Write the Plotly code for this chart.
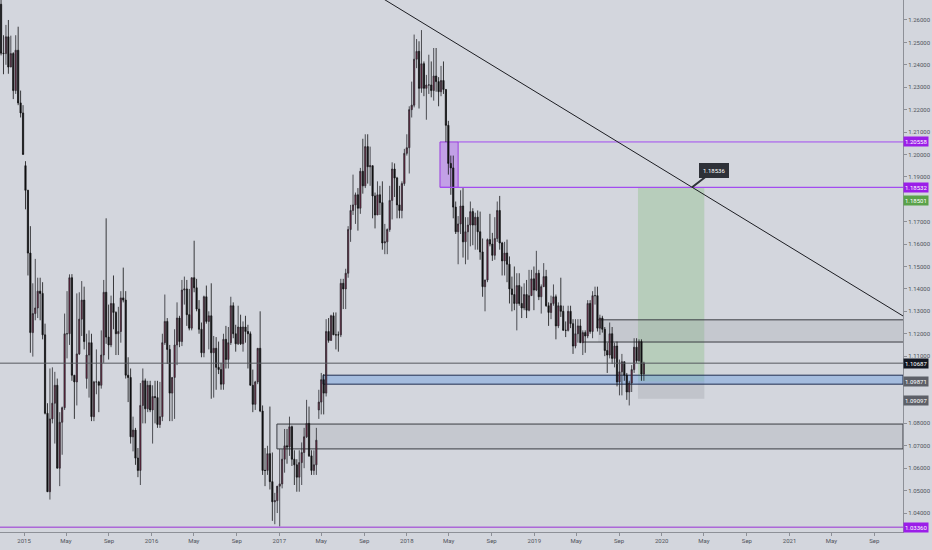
import pandas as pd
import plotly.graph_objects as go

# ---------------- data (weekly EUR/USD candles: open, high, low, close) ----------------
START_WEEK = "2014-10-13"

OHLC_2014 = [
    (1.2626, 1.2887, 1.2617, 1.2760), (1.2760, 1.2778, 1.2614, 1.2670), (1.2670, 1.2837, 1.2442, 1.2452),
    (1.2452, 1.2532, 1.2358, 1.2450), (1.2450, 1.2578, 1.2400, 1.2525), (1.2525, 1.2600, 1.2360, 1.2390),
    (1.2390, 1.2530, 1.2390, 1.2450), (1.2450, 1.2456, 1.2247, 1.2285), (1.2285, 1.2532, 1.2270, 1.2465),
    (1.2465, 1.2570, 1.2220, 1.2230), (1.2230, 1.2285, 1.2165, 1.2185), (1.2185, 1.2220, 1.2000, 1.2000),
]
OHLC_2015 = [
    (1.1950, 1.1970, 1.1755, 1.1840), (1.1840, 1.1842, 1.1460, 1.1560), (1.1560, 1.1680, 1.1115, 1.1205),
    (1.1205, 1.1425, 1.1098, 1.1290), (1.1290, 1.1534, 1.1260, 1.1315), (1.1315, 1.1450, 1.1270, 1.1390),
    (1.1390, 1.1450, 1.1260, 1.1380), (1.1380, 1.1430, 1.1175, 1.1195), (1.1195, 1.1245, 1.0840, 1.0845),
    (1.0845, 1.0890, 1.0500, 1.0495), (1.0495, 1.1045, 1.0460, 1.0820), (1.0820, 1.1050, 1.0800, 1.0890),
    (1.0890, 1.1030, 1.0710, 1.0970), (1.0970, 1.1000, 1.0600, 1.0600), (1.0600, 1.0850, 1.0520, 1.0805),
    (1.0805, 1.0875, 1.0660, 1.0870), (1.0870, 1.1290, 1.0860, 1.1200), (1.1200, 1.1390, 1.1090, 1.1200),
    (1.1200, 1.1465, 1.1150, 1.1450), (1.1450, 1.1466, 1.0990, 1.1015), (1.1015, 1.1015, 1.0820, 1.0985),
    (1.0985, 1.1380, 1.0880, 1.1110), (1.1110, 1.1385, 1.1105, 1.1265), (1.1265, 1.1435, 1.1190, 1.1350),
    (1.1350, 1.1410, 1.1130, 1.1165), (1.1000, 1.1200, 1.0955, 1.1105), (1.1105, 1.1215, 1.0915, 1.1160),
    (1.1160, 1.1200, 1.0810, 1.0830), (1.0830, 1.0990, 1.0810, 1.0985), (1.0985, 1.1130, 1.0930, 1.0985),
    (1.0985, 1.0990, 1.0850, 1.0970), (1.0970, 1.1215, 1.0955, 1.1105), (1.1105, 1.1440, 1.1070, 1.1385),
    (1.1385, 1.1715, 1.1155, 1.1185), (1.1185, 1.1330, 1.1085, 1.1150), (1.1150, 1.1370, 1.1140, 1.1335),
    (1.1335, 1.1460, 1.1220, 1.1295), (1.1295, 1.1300, 1.1105, 1.1200), (1.1200, 1.1320, 1.1105, 1.1210),
    (1.1210, 1.1390, 1.1160, 1.1360), (1.1360, 1.1495, 1.1340, 1.1350), (1.1350, 1.1390, 1.1000, 1.1015),
    (1.1015, 1.1095, 1.0895, 1.1005), (1.1005, 1.1045, 1.0710, 1.0740), (1.0740, 1.0830, 1.0675, 1.0770),
    (1.0770, 1.0780, 1.0615, 1.0645), (1.0645, 1.0690, 1.0560, 1.0590), (1.0590, 1.0980, 1.0525, 1.0880),
    (1.0880, 1.1045, 1.0800, 1.0990), (1.0990, 1.1000, 1.0800, 1.0865), (1.0865, 1.0990, 1.0850, 1.0970),
    (1.0970, 1.0990, 1.0850, 1.0860),
]
OHLC_2016 = [
    (1.0860, 1.0970, 1.0710, 1.0920), (1.0920, 1.0990, 1.0800, 1.0915), (1.0915, 1.0990, 1.0780, 1.0795),
    (1.0795, 1.0985, 1.0780, 1.0830), (1.0830, 1.1200, 1.0810, 1.1160), (1.1160, 1.1375, 1.1150, 1.1255),
    (1.1255, 1.1270, 1.1065, 1.1130), (1.1130, 1.1150, 1.0810, 1.0935), (1.0935, 1.1005, 1.0810, 1.1005),
    (1.1005, 1.1220, 1.0820, 1.1150), (1.1150, 1.1340, 1.1060, 1.1270), (1.1270, 1.1280, 1.1140, 1.1165),
    (1.1165, 1.1440, 1.1145, 1.1395), (1.1395, 1.1455, 1.1330, 1.1400), (1.1400, 1.1440, 1.1235, 1.1285),
    (1.1285, 1.1400, 1.1215, 1.1225), (1.1225, 1.1450, 1.1215, 1.1450), (1.1450, 1.1615, 1.1385, 1.1405),
    (1.1405, 1.1445, 1.1300, 1.1310), (1.1310, 1.1350, 1.1200, 1.1220), (1.1220, 1.1250, 1.1095, 1.1115),
    (1.1115, 1.1370, 1.1095, 1.1365), (1.1365, 1.1415, 1.1245, 1.1255), (1.1255, 1.1300, 1.1130, 1.1280),
    (1.1280, 1.1425, 1.0910, 1.1115), (1.1115, 1.1190, 1.0915, 1.1135), (1.1135, 1.1185, 1.0950, 1.1050),
    (1.1050, 1.1165, 1.1020, 1.1040), (1.1040, 1.1070, 1.0950, 1.0975), (1.0975, 1.1200, 1.0950, 1.1175),
    (1.1175, 1.1235, 1.1045, 1.1085), (1.1085, 1.1230, 1.1045, 1.1160), (1.1160, 1.1365, 1.1150, 1.1325),
    (1.1325, 1.1340, 1.1180, 1.1200), (1.1200, 1.1240, 1.1120, 1.1155), (1.1155, 1.1325, 1.1150, 1.1230),
    (1.1230, 1.1285, 1.1150, 1.1155), (1.1155, 1.1255, 1.1120, 1.1230), (1.1230, 1.1280, 1.1160, 1.1210),
    (1.1210, 1.1240, 1.1045, 1.1200), (1.1200, 1.1210, 1.0970, 1.0970), (1.0970, 1.1040, 1.0850, 1.0885),
    (1.0885, 1.0990, 1.0860, 1.0985), (1.0985, 1.1125, 1.0975, 1.1135), (1.1135, 1.1300, 1.0850, 1.0855),
    (1.0855, 1.0880, 1.0570, 1.0590), (1.0590, 1.0690, 1.0520, 1.0590), (1.0590, 1.0700, 1.0570, 1.0665),
    (1.0665, 1.0875, 1.0505, 1.0540), (1.0540, 1.0670, 1.0365, 1.0450), (1.0450, 1.0490, 1.0350, 1.0455),
    (1.0455, 1.0490, 1.0400, 1.0520),
]
OHLC_2017 = [
    (1.0520, 1.0685, 1.0340, 1.0530), (1.0530, 1.0685, 1.0510, 1.0640), (1.0640, 1.0775, 1.0580, 1.0700),
    (1.0700, 1.0775, 1.0620, 1.0695), (1.0695, 1.0830, 1.0655, 1.0785), (1.0785, 1.0790, 1.0610, 1.0640),
    (1.0640, 1.0680, 1.0525, 1.0615), (1.0615, 1.0640, 1.0495, 1.0560), (1.0560, 1.0680, 1.0495, 1.0625),
    (1.0625, 1.0715, 1.0525, 1.0670), (1.0670, 1.0780, 1.0600, 1.0740), (1.0740, 1.0905, 1.0735, 1.0800),
    (1.0800, 1.0875, 1.0650, 1.0655), (1.0655, 1.0680, 1.0570, 1.0590), (1.0590, 1.0680, 1.0570, 1.0615),
    (1.0615, 1.0780, 1.0570, 1.0725), (1.0860, 1.0950, 1.0820, 1.0895), (1.0895, 1.1025, 1.0840, 1.0995),
    (1.0995, 1.1020, 1.0840, 1.0935), (1.0935, 1.1265, 1.0920, 1.1210), (1.1210, 1.1270, 1.1160, 1.1170),
    (1.1170, 1.1285, 1.1170, 1.1280), (1.1280, 1.1295, 1.1195, 1.1195), (1.1195, 1.1295, 1.1130, 1.1195),
    (1.1195, 1.1210, 1.1120, 1.1195), (1.1195, 1.1445, 1.1185, 1.1425), (1.1425, 1.1445, 1.1310, 1.1400),
    (1.1400, 1.1490, 1.1310, 1.1470), (1.1470, 1.1680, 1.1450, 1.1665), (1.1665, 1.1775, 1.1610, 1.1750),
    (1.1750, 1.1910, 1.1730, 1.1775), (1.1775, 1.1830, 1.1690, 1.1820), (1.1820, 1.1850, 1.1660, 1.1760),
    (1.1760, 1.1940, 1.1735, 1.1925), (1.1925, 1.2070, 1.1825, 1.1860), (1.1860, 1.2090, 1.1850, 1.2035),
    (1.2035, 1.2090, 1.1870, 1.1945), (1.1945, 1.2035, 1.1860, 1.1950), (1.1950, 1.1950, 1.1715, 1.1815),
    (1.1815, 1.1830, 1.1670, 1.1730), (1.1730, 1.1880, 1.1730, 1.1820), (1.1820, 1.1860, 1.1730, 1.1785),
    (1.1785, 1.1880, 1.1575, 1.1605), (1.1605, 1.1690, 1.1555, 1.1610), (1.1610, 1.1670, 1.1555, 1.1665),
    (1.1665, 1.1860, 1.1655, 1.1795), (1.1795, 1.1965, 1.1710, 1.1935), (1.1935, 1.1960, 1.1810, 1.1895),
    (1.1895, 1.1900, 1.1715, 1.1775), (1.1775, 1.1860, 1.1715, 1.1750), (1.1750, 1.1880, 1.1715, 1.1870),
    (1.1870, 1.2025, 1.1860, 1.2005),
]
OHLC_2018 = [
    (1.2005, 1.2090, 1.1995, 1.2030), (1.2030, 1.2215, 1.1915, 1.2200), (1.2200, 1.2325, 1.2165, 1.2220),
    (1.2220, 1.2535, 1.2210, 1.2425), (1.2425, 1.2515, 1.2385, 1.2460), (1.2460, 1.2505, 1.2205, 1.2295),
    (1.2295, 1.2555, 1.2275, 1.2405), (1.2405, 1.2415, 1.2260, 1.2295), (1.2295, 1.2355, 1.2155, 1.2310),
    (1.2310, 1.2445, 1.2270, 1.2310), (1.2310, 1.2415, 1.2255, 1.2285), (1.2285, 1.2475, 1.2240, 1.2350),
    (1.2350, 1.2475, 1.2280, 1.2325), (1.2325, 1.2345, 1.2215, 1.2280), (1.2280, 1.2395, 1.2260, 1.2330),
    (1.2330, 1.2415, 1.2270, 1.2290), (1.2290, 1.2290, 1.2055, 1.2130), (1.2130, 1.2150, 1.1910, 1.1960),
    (1.1960, 1.1995, 1.1820, 1.1940), (1.1940, 1.1995, 1.1715, 1.1765), (1.1765, 1.1790, 1.1645, 1.1655),
    (1.1655, 1.1725, 1.1510, 1.1690), (1.1690, 1.1840, 1.1645, 1.1770), (1.1770, 1.1850, 1.1540, 1.1610),
    (1.1610, 1.1720, 1.1510, 1.1655), (1.1655, 1.1720, 1.1530, 1.1685), (1.1685, 1.1790, 1.1590, 1.1745),
    (1.1745, 1.1760, 1.1595, 1.1685), (1.1685, 1.1740, 1.1575, 1.1720), (1.1720, 1.1750, 1.1575, 1.1655),
    (1.1655, 1.1745, 1.1530, 1.1565), (1.1565, 1.1625, 1.1365, 1.1410), (1.1410, 1.1440, 1.1300, 1.1440),
    (1.1440, 1.1625, 1.1430, 1.1620), (1.1620, 1.1735, 1.1590, 1.1600), (1.1600, 1.1650, 1.1525, 1.1550),
    (1.1550, 1.1720, 1.1530, 1.1625), (1.1625, 1.1790, 1.1610, 1.1750), (1.1750, 1.1815, 1.1575, 1.1605),
    (1.1605, 1.1610, 1.1460, 1.1525), (1.1525, 1.1610, 1.1460, 1.1560), (1.1560, 1.1620, 1.1430, 1.1510),
    (1.1510, 1.1545, 1.1335, 1.1400), (1.1400, 1.1455, 1.1300, 1.1375), (1.1375, 1.1500, 1.1305, 1.1335),
    (1.1335, 1.1470, 1.1215, 1.1415), (1.1415, 1.1470, 1.1325, 1.1335), (1.1335, 1.1410, 1.1270, 1.1315),
    (1.1315, 1.1425, 1.1305, 1.1375), (1.1375, 1.1440, 1.1270, 1.1305), (1.1305, 1.1485, 1.1300, 1.1370),
    (1.1370, 1.1485, 1.1370, 1.1445), (1.1445, 1.1500, 1.1305, 1.1395),
]
OHLC_2019 = [
    (1.1395, 1.1570, 1.1390, 1.1470), (1.1470, 1.1485, 1.1350, 1.1365), (1.1365, 1.1420, 1.1290, 1.1410),
    (1.1410, 1.1515, 1.1410, 1.1455), (1.1455, 1.1485, 1.1320, 1.1325), (1.1325, 1.1340, 1.1235, 1.1295),
    (1.1295, 1.1370, 1.1265, 1.1335), (1.1335, 1.1420, 1.1325, 1.1365), (1.1365, 1.1375, 1.1175, 1.1235),
    (1.1235, 1.1340, 1.1225, 1.1325), (1.1325, 1.1450, 1.1275, 1.1300), (1.1300, 1.1325, 1.1215, 1.1215),
    (1.1215, 1.1255, 1.1185, 1.1215), (1.1215, 1.1325, 1.1210, 1.1300), (1.1300, 1.1325, 1.1225, 1.1245),
    (1.1245, 1.1265, 1.1110, 1.1145), (1.1145, 1.1265, 1.1135, 1.1200), (1.1200, 1.1265, 1.1160, 1.1235),
    (1.1235, 1.1265, 1.1160, 1.1160), (1.1160, 1.1215, 1.1105, 1.1205), (1.1205, 1.1215, 1.1115, 1.1190),
    (1.1190, 1.1350, 1.1180, 1.1335), (1.1335, 1.1350, 1.1200, 1.1210), (1.1210, 1.1390, 1.1180, 1.1370),
    (1.1370, 1.1410, 1.1330, 1.1370), (1.1370, 1.1410, 1.1210, 1.1225), (1.1225, 1.1285, 1.1195, 1.1270),
    (1.1270, 1.1280, 1.1205, 1.1220), (1.1220, 1.1230, 1.1100, 1.1125), (1.1125, 1.1160, 1.1025, 1.1105),
    (1.1105, 1.1250, 1.1090, 1.1200), (1.1200, 1.1230, 1.1065, 1.1090), (1.1090, 1.1160, 1.1050, 1.1145),
    (1.1145, 1.1165, 1.0965, 1.0985), (1.0985, 1.1085, 1.0925, 1.1030), (1.1030, 1.1110, 1.0925, 1.1075),
    (1.1075, 1.1075, 1.0990, 1.1015), (1.1015, 1.1025, 1.0905, 1.0940), (1.0940, 1.0990, 1.0880, 1.0980),
    (1.0980, 1.1060, 1.0940, 1.1040), (1.1040, 1.1180, 1.1025, 1.1140), (1.1140, 1.1180, 1.1070, 1.1080),
    (1.1080, 1.1175, 1.1075, 1.1165), (1.1165, 1.1175, 1.0990, 1.1020), (1.1020, 1.1075, 1.0990, 1.10687),
]

# axis labels
X_TICK_DATES = ["2015-01-01", "2015-05-01", "2015-09-01", "2016-01-01", "2016-05-01", "2016-09-01",
                "2017-01-01", "2017-05-01", "2017-09-01", "2018-01-01", "2018-05-01", "2018-09-01",
                "2019-01-01", "2019-05-01", "2019-09-01", "2020-01-01", "2020-05-01", "2020-09-01",
                "2021-01-01", "2021-05-01", "2021-09-01"]
X_TICK_TEXT = ["2015", "May", "Sep", "2016", "May", "Sep", "2017", "May", "Sep", "2018", "May", "Sep",
               "2019", "May", "Sep", "2020", "May", "Sep", "2021", "May", "Sep"]
# price ticks (those hidden under price tags are left out)
Y_TICKS = [1.04, 1.05, 1.06, 1.07, 1.08, 1.11, 1.12, 1.13, 1.14, 1.15, 1.16, 1.17, 1.19,
           1.20, 1.21, 1.22, 1.23, 1.24, 1.25, 1.26]

# drawn levels / zones
LAST_PRICE = 1.10687
SUPPLY_TOP, SUPPLY_BOT = 1.20558, 1.18532
SUPPLY_START, SUPPLY_END = "2018-04-06", "2018-05-28"
TARGET, ENTRY, STOP = 1.18501, 1.09871, 1.09097
POS_START, POS_END = "2019-10-25", "2020-05-02"
BLUE_TOP, BLUE_BOT, BLUE_START = 1.1015, 1.0975, "2017-05-06"
UPPER_TOP, UPPER_BOT, UPPER_START, UPPER_LINE_START = 1.1262, 1.1163, "2019-07-03", "2019-05-20"
LOWER_TOP, LOWER_BOT, LOWER_START = 1.0797, 1.0686, "2016-12-25"
FLOOR_LEVEL = 1.03360
TREND_A = ("2018-02-02", 1.2600)
TREND_B = ("2020-03-28", 1.18536)
X_RANGE = ["2014-10-24", "2021-11-22"]
Y_RANGE = [1.03153, 1.26892]

# ---------------- build ----------------
rows = OHLC_2014 + OHLC_2015 + OHLC_2016 + OHLC_2017 + OHLC_2018 + OHLC_2019
dates = pd.date_range(START_WEEK, periods=len(rows), freq="7D")
df = pd.DataFrame(rows, columns=["open", "high", "low", "close"], index=dates)

BG = "#d3d6dd"
MAROON = "#7d1a40"
AXIS = "#8d9097"
TXT = "#50535b"
PURPLE = "#9b1ee8"
FONT = "Roboto"

fig = go.Figure(go.Candlestick(
    x=df.index, open=df["open"], high=df["high"], low=df["low"], close=df["close"],
    increasing=dict(fillcolor=MAROON, line=dict(color="#2a2a2e", width=0.8)),
    decreasing=dict(fillcolor="#101012", line=dict(color="#101012", width=0.8)),
    whiskerwidth=0, hoverinfo="skip",
))

shapes = []
def rect(x0, x1, y0, y1, fill, line=None, lw=1, xref="x"):
    shapes.append(dict(type="rect", xref=xref, yref="y", x0=x0, x1=x1, y0=y0, y1=y1,
                       fillcolor=fill, line=dict(color=line or "rgba(0,0,0,0)", width=lw if line else 0),
                       layer="below"))
def hline(y, x0, x1, color, width=1, xref="x", layer="above"):
    shapes.append(dict(type="line", xref=xref, yref="y", x0=x0, x1=x1, y0=y, y1=y,
                       line=dict(color=color, width=width), layer=layer))

xr0, xr1 = X_RANGE
# position tool
rect(POS_START, POS_END, ENTRY, TARGET, "rgba(120,185,110,0.30)")
rect(POS_START, POS_END, STOP, ENTRY, "rgba(140,142,150,0.25)")
# gray zones
rect(UPPER_START, xr1, UPPER_BOT, UPPER_TOP, "rgba(150,152,160,0.22)")
hline(UPPER_TOP, UPPER_START, xr1, "#3a3c42", 1, layer="below")
hline(UPPER_BOT, UPPER_LINE_START, xr1, "#3a3c42", 1, layer="below")
rect(LOWER_START, xr1, LOWER_BOT, LOWER_TOP, "rgba(150,152,160,0.22)", "#3a3c42", 1)
# blue zone
rect(BLUE_START, xr1, BLUE_BOT, BLUE_TOP, "rgba(95,150,225,0.40)", "#1f2d50", 1)
# supply box
rect(SUPPLY_START, SUPPLY_END, SUPPLY_BOT, SUPPLY_TOP, "rgba(170,80,245,0.40)", "#9b3be0", 1)
hline(SUPPLY_TOP, SUPPLY_END, xr1, "#a24cf0", 1)
hline(SUPPLY_BOT, SUPPLY_START, xr1, "#a24cf0", 1.2)
# last price line & floor
hline(LAST_PRICE, 0, 1, "#55585f", 1, xref="paper")
hline(FLOOR_LEVEL, 0, 1, "rgba(165,85,215,0.85)", 1.5, xref="paper")

# trendline through two anchors, extended across the view
ta = pd.Timestamp(TREND_A[0]); tb = pd.Timestamp(TREND_B[0])
slope = (TREND_B[1] - TREND_A[1]) / (tb - ta).days
t0 = pd.Timestamp("2017-09-01"); t1 = pd.Timestamp(xr1)
p0 = TREND_A[1] + slope * (t0 - ta).days
p1 = TREND_A[1] + slope * (t1 - ta).days
shapes.append(dict(type="line", xref="x", yref="y", x0=t0, x1=t1, y0=p0, y1=p1,
                   line=dict(color="#1c1d22", width=1)))

annotations = [dict(x=TREND_B[0], y=TREND_B[1], xref="x", yref="y", text=f"{TREND_B[1]:.5f}",
                    showarrow=True, arrowhead=0, arrowwidth=2, arrowcolor="#2e3138", ax=22, ay=-17,
                    bgcolor="#2e3138", bordercolor="#2e3138", borderpad=3,
                    font=dict(family=FONT, size=6, color="white"))]

# (value, colour, vertical shift in px so that tags do not collide)
price_tags = [(SUPPLY_TOP, PURPLE, 0), (SUPPLY_BOT, PURPLE, 0), (TARGET, "#5aa24a", -12),
              (LAST_PRICE, "#131722", 0), (ENTRY, "#5d6068", 0), (STOP, "#5d6068", -2),
              (FLOOR_LEVEL, PURPLE, 0)]
for val, col, ys in price_tags:
    annotations.append(dict(x=1, y=val, xref="paper", yref="y", xanchor="left", yanchor="middle",
                            text=f"{val:.5f}", showarrow=False, bgcolor=col, borderpad=1,
                            xshift=0, yshift=ys, font=dict(family=FONT, size=6, color="white")))

fig.update_layout(
    width=932, height=550, margin=dict(l=0, r=29, t=0, b=18),
    plot_bgcolor=BG, paper_bgcolor=BG, showlegend=False,
    shapes=shapes, annotations=annotations,
    font=dict(family=FONT, size=6, color=TXT),
    xaxis=dict(type="date", range=X_RANGE, tickvals=X_TICK_DATES, ticktext=X_TICK_TEXT,
               ticks="outside", ticklen=3, tickcolor=AXIS, showline=True, linecolor=AXIS,
               showgrid=False, zeroline=False, rangeslider=dict(visible=False),
               tickfont=dict(family=FONT, size=6, color=TXT)),
    yaxis=dict(side="right", range=Y_RANGE, tickvals=Y_TICKS, tickformat=".5f",
               ticks="outside", ticklen=3, tickcolor=AXIS, showline=True, linecolor=AXIS,
               showgrid=False, zeroline=False, tickfont=dict(family=FONT, size=6, color=TXT)),
)

fig.write_html("out.html", config={"displayModeBar": False},
               post_script="document.body.style.margin='0';")
